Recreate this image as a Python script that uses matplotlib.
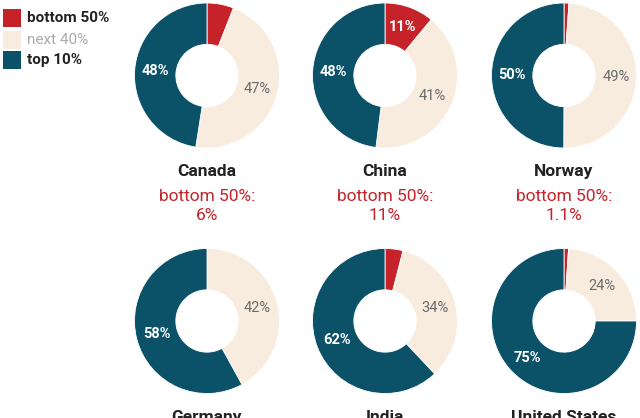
import matplotlib.pyplot as plt
from matplotlib.patches import Rectangle
import numpy as np

plt.rcParams['font.family'] = ['Roboto', 'DejaVu Sans']

countries = ['Canada', 'China', 'Norway', 'Germany', 'India', 'United States']
bottom50 = [6, 11, 1.1, 0, 4, 1]
next40 = [47, 41, 49, 42, 34, 24]
top10 = [48, 48, 50, 58, 62, 75]
bottom_txt = ['6%', '11%', '1.1%', '0%', '4%', '1%']

series = ['bottom 50%', 'next 40%', 'top 10%']
colors = ['#c62229', '#f8ecdf', '#0b5168']
label_colors = ['white', '#6b6b6b', 'white']
label_weights = ['bold', 'normal', 'bold']

W, H = 640, 418
fig = plt.figure(figsize=(W / 100, H / 100), dpi=100)

col_x = [207, 385, 564]
row_y = [75.5, 321]
r = 72.5

for i, c in enumerate(countries):
    cx = col_x[i % 3]
    cy = row_y[i // 3]
    ax = fig.add_axes([(cx - r) / W, 1 - (cy + r) / H, 2 * r / W, 2 * r / H])
    vals = [bottom50[i], next40[i], top10[i]]
    wedges, _ = ax.pie(vals, colors=colors, startangle=90, counterclock=False,
                       radius=1, wedgeprops=dict(width=0.57, edgecolor='white', linewidth=0.6))
    ax.set_xlim(-1, 1)
    ax.set_ylim(-1, 1)
    ax.set_aspect('equal')
    ax.axis('off')
    for k, w in enumerate(wedges):
        if vals[k] < 10:
            continue
        ang = np.deg2rad((w.theta1 + w.theta2) / 2)
        rr = 0.715
        ax.text(rr * np.cos(ang), rr * np.sin(ang), '%d%%' % round(vals[k]),
                ha='center', va='center', fontsize=10.5, color=label_colors[k],
                fontweight=label_weights[k])
    fig.text(cx / W, 1 - (cy + 96.5) / H, c, ha='center', va='center',
             fontsize=12.5, fontweight='bold', color='#222222')
    # the second row's notes fall below the visible area in the reference
    if cy + 121 < H:
        fig.text(cx / W, 1 - (cy + 121) / H, 'bottom 50%:', ha='center', va='center',
                 fontsize=12.5, color='#c62229')
        fig.text(cx / W, 1 - (cy + 140) / H, bottom_txt[i], ha='center', va='center',
                 fontsize=12.5, color='#c62229')

# legend drawn by hand to match the square swatches
leg_y = [18, 39.5, 60]
leg_col = ['#222222', '#aaaaaa', '#222222']
leg_wt = ['bold', 'normal', 'bold']
for s, col, y, tc, wt in zip(series, colors, leg_y, leg_col, leg_wt):
    fig.add_artist(Rectangle((3 / W, 1 - (y + 9) / H), 18 / W, 18 / H,
                             transform=fig.transFigure, facecolor=col, edgecolor='none'))
    fig.text(27 / W, 1 - y / H, s, ha='left', va='center', fontsize=11,
             color=tc, fontweight=wt)

fig.savefig('out.png', dpi=100)
